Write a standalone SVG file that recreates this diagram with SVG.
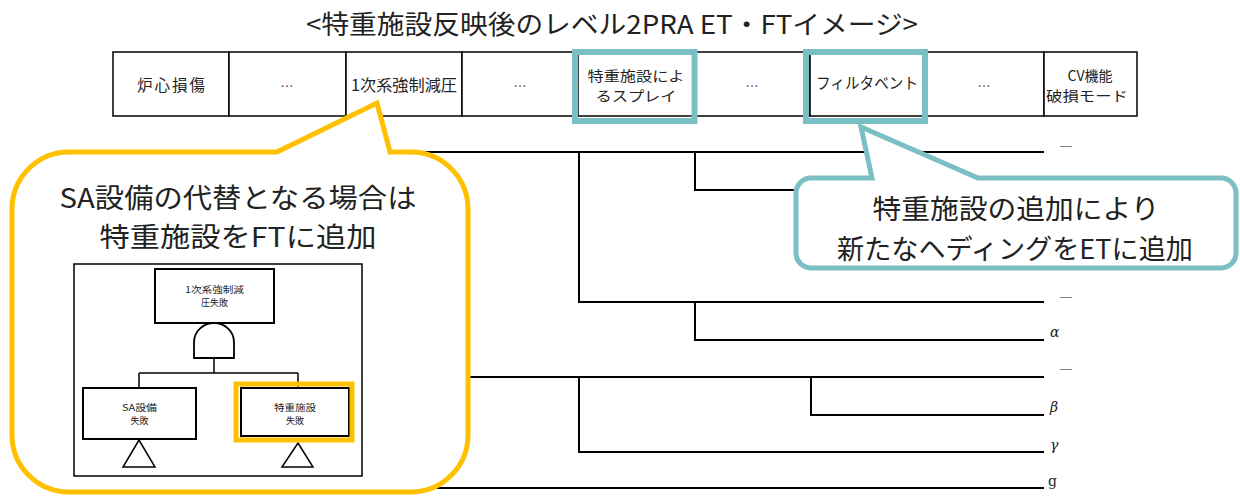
<svg xmlns="http://www.w3.org/2000/svg" width="1240" height="498" viewBox="0 0 1240 498">
<style>
text{font-family:"Noto Sans CJK JP","Noto Sans",sans-serif;fill:#222;}
.hd{font-size:15.5px;text-anchor:middle;dominant-baseline:central;}
.hd2{font-size:14px;text-anchor:middle;dominant-baseline:central;}
.dots{font-size:13px;text-anchor:middle;dominant-baseline:central;fill:#555;}
.et{stroke:#000;stroke-width:2;fill:none;}
.cell{fill:#fff;stroke:#000;stroke-width:1.5;}
.hl-teal{fill:none;stroke:#79BFC3;stroke-width:6;}
.big{font-size:27px;text-anchor:middle;dominant-baseline:central;}
.ft{font-size:9px;text-anchor:middle;dominant-baseline:central;}
.ftbox{fill:#fff;stroke:#000;stroke-width:2;}
.lbl{font-family:"DejaVu Serif","Liberation Serif",serif;font-style:italic;font-size:14px;}
.dash{stroke:#222;stroke-width:1.2;}
</style>

<text x="612" y="22" font-size="26" text-anchor="middle" dominant-baseline="central" textLength="612" lengthAdjust="spacingAndGlyphs">&lt;特重施設反映後のレベル2PRA ET・FTイメージ&gt;</text>

<g id="connectors">
  <path class="et" d="M420 152 H1044"/>
  <path class="et" d="M579 152 V302 H1044"/>
  <path class="et" d="M695 152 V190 H1044"/>
  <path class="et" d="M695 302 V340 H1044"/>
  <path class="et" d="M420 377 H1044"/>
  <path class="et" d="M579 377 V452 H1044"/>
  <path class="et" d="M811 377 V415 H1044"/>
  <path class="et" d="M420 488 H1044"/>
</g>

<g id="labels">
  <text x="1066" y="145" font-size="14" text-anchor="middle" dominant-baseline="central">―</text>
  <text x="1066" y="296" font-size="14" text-anchor="middle" dominant-baseline="central">―</text>
  <text class="lbl" x="1050" y="337">α</text>
  <text x="1066" y="368" font-size="14" text-anchor="middle" dominant-baseline="central">―</text>
  <text class="lbl" x="1050" y="412">β</text>
  <text class="lbl" x="1050" y="450">γ</text>
  <text class="lbl" x="1048" y="486" style="font-style:normal">g</text>
</g>

<g id="header">
  <rect class="cell" x="113" y="52" width="116" height="64"/>
  <rect class="cell" x="229" y="52" width="117" height="64"/>
  <rect class="cell" x="346" y="52" width="116" height="64"/>
  <rect class="cell" x="462" y="52" width="116" height="64"/>
  <rect class="cell" x="578" y="52" width="116" height="64"/>
  <rect class="cell" x="694" y="52" width="116" height="64"/>
  <rect class="cell" x="810" y="52" width="116" height="64"/>
  <rect class="cell" x="926" y="52" width="118" height="64"/>
  <rect class="cell" x="1044" y="52" width="93" height="64"/>
  <text class="hd" x="171" y="84" textLength="68" lengthAdjust="spacing">炉心損傷</text>
  <text class="dots" x="287" y="85">…</text>
  <text class="hd" x="404" y="84" textLength="106" lengthAdjust="spacingAndGlyphs">1次系強制減圧</text>
  <text class="dots" x="520" y="85">…</text>
  <text class="hd2" x="636" y="75" textLength="97" lengthAdjust="spacingAndGlyphs">特重施設によ</text>
  <text class="hd2" x="636" y="95" textLength="81" lengthAdjust="spacingAndGlyphs">るスプレイ</text>
  <text class="dots" x="752" y="85">…</text>
  <text class="hd" x="867" y="82" textLength="102" lengthAdjust="spacingAndGlyphs">フィルタベント</text>
  <text class="dots" x="984" y="85">…</text>
  <text class="hd2" x="1090" y="75">CV機能</text>
  <text class="hd2" x="1087" y="95" textLength="82" lengthAdjust="spacingAndGlyphs">破損モード</text>
  <rect class="hl-teal" x="575" y="52" width="119.5" height="69"/>
  <rect class="hl-teal" x="806" y="52" width="119" height="69"/>
</g>

<g id="callout-sa">
  <path d="M69 152 L277 152 L377 103 L390 152 L411 152 A57 57 0 0 1 468 209 L468 435 A57 57 0 0 1 411 492 L69 492 A57 57 0 0 1 12 435 L12 209 A57 57 0 0 1 69 152 Z" fill="#fff" stroke="#FFC000" stroke-width="5" stroke-linejoin="miter"/>
  <text class="big" x="238" y="196" textLength="357" lengthAdjust="spacingAndGlyphs">SA設備の代替となる場合は</text>
  <text class="big" x="238" y="235" textLength="277" lengthAdjust="spacingAndGlyphs">特重施設をFTに追加</text>
</g>

<g id="ft-image">
  <rect x="74" y="264" width="288" height="212" fill="#fff" stroke="#000" stroke-width="1.5"/>
  <path d="M214 358 V373 M139 373 H298 M139 373 V388 M298 373 V388" stroke="#000" stroke-width="1.5" fill="none"/>
  <g id="ft-top">
    <rect class="ftbox" x="155" y="269" width="119" height="54"/>
    <text class="ft" x="214.5" y="289.5" textLength="59" lengthAdjust="spacingAndGlyphs">1次系強制減</text>
    <text class="ft" x="214.5" y="302.5">圧失敗</text>
  </g>
  <g id="ft-gate">
    <path d="M194 358 V342 A20 19 0 0 1 234 342 V358 Z" fill="#fff" stroke="#000" stroke-width="1.8"/>
  </g>
  <g id="ft-sa">
    <rect class="ftbox" x="83" y="388" width="113" height="51"/>
    <text class="ft" x="139.5" y="407" textLength="35" lengthAdjust="spacingAndGlyphs">SA設備</text>
    <text class="ft" x="139.5" y="420">失敗</text>
    <path d="M139 440 L123 467 H155 Z" fill="#fff" stroke="#000" stroke-width="1.5"/>
  </g>
  <g id="ft-tokuju">
    <rect class="ftbox" x="241" y="388" width="108" height="48"/>
    <text class="ft" x="295" y="407" textLength="42" lengthAdjust="spacingAndGlyphs">特重施設</text>
    <text class="ft" x="295" y="420">失敗</text>
    <path d="M298 443 L282 467 H313 Z" fill="#fff" stroke="#000" stroke-width="1.5"/>
    <rect x="236" y="384" width="116" height="56" fill="none" stroke="#FFC000" stroke-width="5"/>
  </g>
</g>

<g id="callout-et">
  <path d="M811 178 L872 178 L861 127 L978 178 L1221 178 A15 15 0 0 1 1236 193 L1236 253 A15 15 0 0 1 1221 268 L811 268 A15 15 0 0 1 796 253 L796 193 A15 15 0 0 1 811 178 Z" fill="#fff" stroke="#79BFC3" stroke-width="5"/>
  <text class="big" x="1016" y="207" textLength="287" lengthAdjust="spacingAndGlyphs">特重施設の追加により</text>
  <text class="big" x="1015" y="247" textLength="356" lengthAdjust="spacingAndGlyphs">新たなヘディングをETに追加</text>
</g>
</svg>
